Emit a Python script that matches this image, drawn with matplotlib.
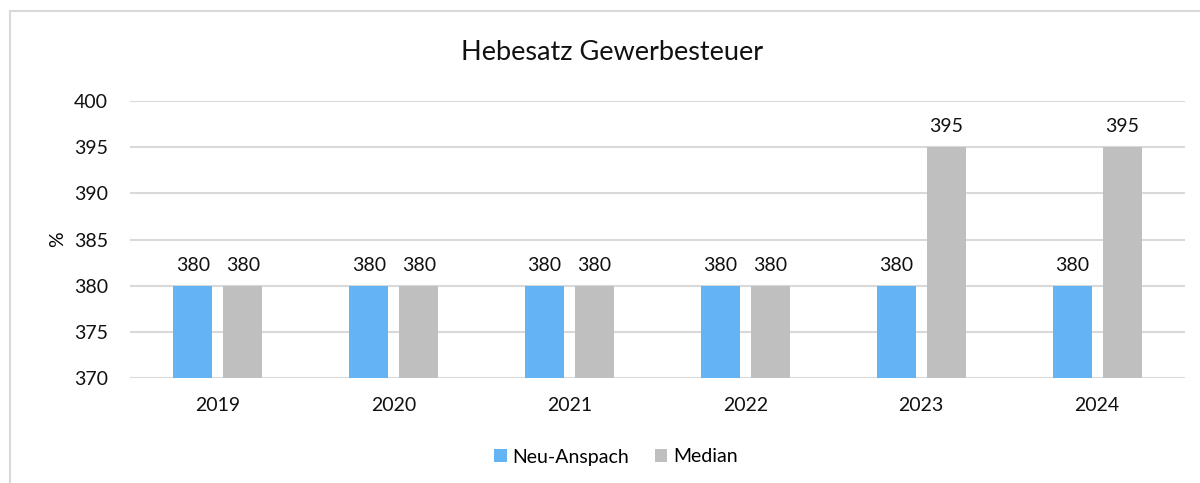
import matplotlib
matplotlib.use("Agg")
import matplotlib.pyplot as plt
from matplotlib.patches import Rectangle
import numpy as np

years = ["2019", "2020", "2021", "2022", "2023", "2024"]
neu_anspach = [380, 380, 380, 380, 380, 380]
median = [380, 380, 380, 380, 395, 395]
yticks = [370, 375, 380, 385, 390, 395, 400]

plt.rcParams['font.family'] = ['Lato', 'DejaVu Sans']

fig = plt.figure(figsize=(12, 4.83), dpi=100)
ax = fig.add_axes([130/1200, 1-378/483, (1185-130)/1200, (378-101)/483])

x = np.arange(len(years))
w = 0.222
off = 0.142
blue = '#63b3f5'
grey = '#bfbfbf'
fs = 14
b1 = ax.bar(x - off, [v - 370 for v in neu_anspach], w, bottom=370, color=blue, label='Neu-Anspach', zorder=3)
b2 = ax.bar(x + off, [v - 370 for v in median], w, bottom=370, color=grey, label='Median', zorder=3)
for i, v in enumerate(neu_anspach):
    ax.text(x[i] - off, v + 1.3, str(v), ha='center', va='bottom', fontsize=fs, color='#111111')
for i, v in enumerate(median):
    ax.text(x[i] + off, v + 1.3, str(v), ha='center', va='bottom', fontsize=fs, color='#111111')

ax.set_xlim(-0.5, len(years) - 0.5)
ax.set_ylim(370, 400)
ax.set_yticks(yticks)
ax.set_xticks(x)
ax.set_xticklabels(years)
ax.tick_params(axis='both', length=0, labelsize=fs, colors='#111111')
ax.tick_params(axis='y', pad=16)
ax.tick_params(axis='x', pad=14)
ax.grid(axis='y', color='#d9d9d9', linewidth=1.5, zorder=0)
for s in ax.spines.values():
    s.set_visible(False)
ax.set_ylabel('%', fontsize=fs)
ax.yaxis.set_label_coords(-64/1055, 0.5)

fig.text(612/1200, 1-53/483, 'Hebesatz Gewerbesteuer', ha='center', va='center', fontsize=19.5, color='#111111')
fig.legend(handles=[b1, b2], loc='center', bbox_to_anchor=(616/1200, 1-457/483), ncol=2, frameon=False,
           fontsize=fs, handlelength=0.65, handleheight=0.65, handletextpad=0.3, columnspacing=1.3)

fig.patches.append(Rectangle((10/1200, -0.1), 1.2, 1-11/483+0.1, transform=fig.transFigure,
                             fill=False, edgecolor='#d9d9d9', linewidth=1.5))

fig.savefig('out.png', dpi=100)
